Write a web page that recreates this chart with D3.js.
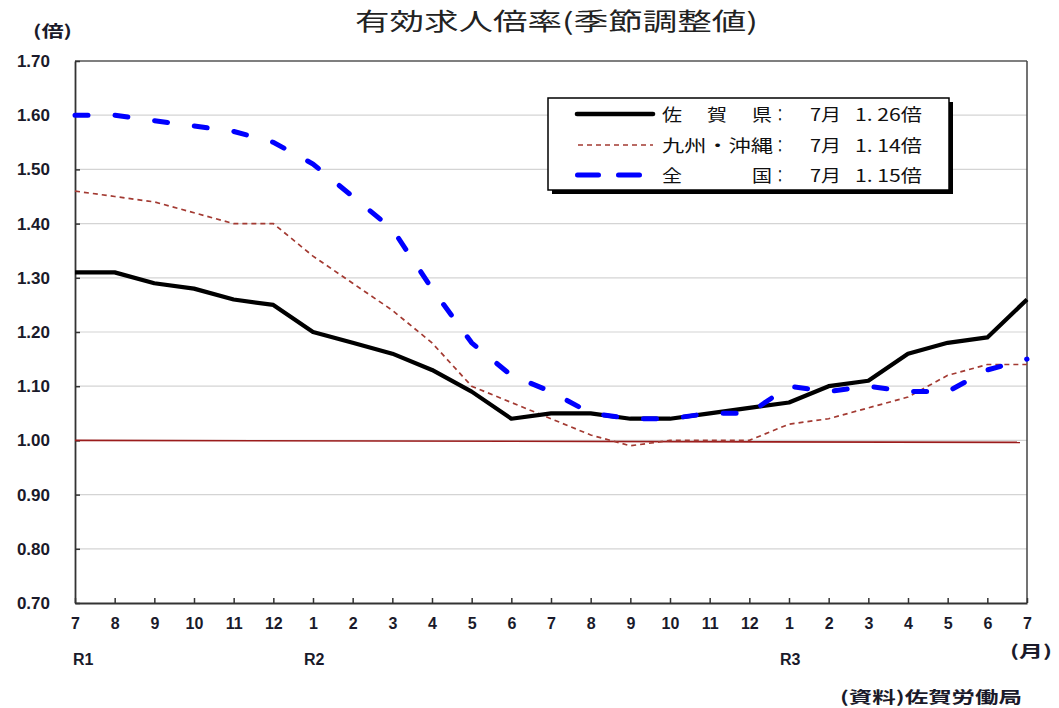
<!DOCTYPE html>
<html><head><meta charset="utf-8">
<script src="https://cdn.jsdelivr.net/npm/d3@7"></script>
<style>
body{margin:0;background:#fff;}
svg text{font-family:"Liberation Sans",Arial,sans-serif;}
.jp{font-family:"Noto Sans CJK JP","Noto Sans",sans-serif !important;}
</style>
</head><body>
<svg id="c" width="1059" height="708"></svg>
<script>
const months = ["7","8","9","10","11","12","1","2","3","4","5","6","7","8","9","10","11","12","1","2","3","4","5","6","7"];
const eraLabels = [{i:0,t:"R1"},{i:6,t:"R2"},{i:18,t:"R3"}];
const yTicks = [0.7,0.8,0.9,1.0,1.1,1.2,1.3,1.4,1.5,1.6,1.7];
const saga = [1.31,1.31,1.29,1.28,1.26,1.25,1.20,1.18,1.16,1.13,1.09,1.04,1.05,1.05,1.04,1.04,1.05,1.06,1.07,1.10,1.11,1.16,1.18,1.19,1.26];
const kyushu = [1.46,1.45,1.44,1.42,1.40,1.40,1.34,1.29,1.24,1.18,1.10,1.07,1.04,1.01,0.99,1.00,1.00,1.00,1.03,1.04,1.06,1.08,1.12,1.14,1.14];
const national = [1.60,1.60,1.59,1.58,1.57,1.55,1.51,1.45,1.39,1.28,1.18,1.12,1.09,1.05,1.04,1.04,1.05,1.05,1.10,1.09,1.10,1.09,1.09,1.13,1.15];

const svg = d3.select("#c");
const L=75, R=1027, T=61, B=603;
const x = d3.scaleLinear().domain([0, months.length-1]).range([L,R]);
const y = d3.scaleLinear().domain([0.7,1.7]).range([B,T]);

// grid
svg.append("g").selectAll("line").data(yTicks.filter(v=>v>0.71 && v<1.69)).join("line")
  .attr("x1",L).attr("x2",R).attr("y1",d=>y(d)).attr("y2",d=>y(d))
  .attr("stroke","#d4d4d4").attr("stroke-width",1.2);

// frame
svg.append("line").attr("x1",L).attr("x2",R).attr("y1",T).attr("y2",T).attr("stroke","#555").attr("stroke-width",1.5);
svg.append("line").attr("x1",R).attr("x2",R).attr("y1",T).attr("y2",B).attr("stroke","#444").attr("stroke-width",1.5);

// y axis
const yAxis = d3.axisLeft(y).tickValues(yTicks).tickFormat(d3.format(".2f")).tickSizeInner(-5).tickSizeOuter(0).tickPadding(25);
const gy = svg.append("g").attr("transform",`translate(${L},0)`).call(yAxis);
gy.select(".domain").attr("stroke","#333").attr("stroke-width",1.8);
gy.selectAll(".tick line").attr("stroke","#333").attr("stroke-width",1.5);
gy.selectAll("text").attr("font-size",17).attr("fill","#1a1a2a").attr("font-weight","bold");

// x axis
const xAxis = d3.axisBottom(x).tickValues(d3.range(months.length)).tickFormat(i=>months[i]).tickSizeInner(-5).tickSizeOuter(0).tickPadding(15);
const gx = svg.append("g").attr("transform",`translate(0,${B})`).call(xAxis);
gx.select(".domain").attr("stroke","#333").attr("stroke-width",1.8);
gx.selectAll(".tick line").attr("stroke","#333").attr("stroke-width",1.5);
gx.selectAll("text").attr("font-size",16).attr("fill","#1a1a2a").attr("font-weight","bold");

svg.append("g").selectAll("text").data(eraLabels).join("text")
  .attr("x",d=>Math.max(x(d.i)-9, L-2)).attr("y",665).text(d=>d.t)
  .attr("font-size",16).attr("font-weight","bold").attr("fill","#1a1a2a");

// 1.00 reference line
svg.append("line").attr("x1",L).attr("x2",1020).attr("y1",y(1.0)).attr("y2",y(1.0)+2)
  .attr("stroke","#9b1c1c").attr("stroke-width",1.6);

const line = d3.line().x((d,i)=>x(i)).y(d=>y(d));
svg.append("path").datum(kyushu).attr("d",line).attr("fill","none")
  .attr("stroke","#a33a32").attr("stroke-width",1.7).attr("stroke-dasharray","5,4");
svg.append("path").datum(saga).attr("d",line).attr("fill","none")
  .attr("stroke","#000").attr("stroke-width",4.2).attr("stroke-linejoin","round");
svg.append("path").datum(national).attr("d",line).attr("fill","none")
  .attr("stroke","#0000ff").attr("stroke-width",5).attr("stroke-dasharray","13,27").attr("stroke-linecap","round");

// Titles
svg.append("text").attr("class","jp").attr("x",355).attr("y",30)
  .attr("font-size",24).attr("fill","#222").attr("textLength",403).attr("lengthAdjust","spacingAndGlyphs")
  .text("有効求人倍率(季節調整値)");
svg.append("text").attr("class","jp").attr("x",33).attr("y",37)
  .attr("font-size",16).attr("font-weight","bold").attr("fill","#1a1a2a").attr("textLength",39).attr("lengthAdjust","spacingAndGlyphs").text("(倍)");
svg.append("text").attr("class","jp").attr("x",1010).attr("y",657)
  .attr("font-size",16).attr("font-weight","bold").attr("fill","#1a1a2a").attr("textLength",42).attr("lengthAdjust","spacingAndGlyphs").text("(月)");
svg.append("text").attr("class","jp").attr("x",840).attr("y",703)
  .attr("font-size",16).attr("font-weight","bold").attr("fill","#1a1a2a").attr("textLength",182).attr("lengthAdjust","spacingAndGlyphs").text("(資料)佐賀労働局");

// Legend
const lg = svg.append("g");
lg.append("rect").attr("x",552).attr("y",102).attr("width",401).attr("height",92).attr("fill","#000");
lg.append("rect").attr("x",548).attr("y",98).attr("width",401).attr("height",92).attr("fill","#fff").attr("stroke","#000").attr("stroke-width",1.5);
const rows = [
  {parts:[["佐",662,20],["賀",707,20],["県",752,20],["：",774,12]], val:"1. 26倍", stroke:"#000", w:4.6, dash:null, cap:"round", x1:577, x2:653},
  {parts:[["九州・沖縄",662,111],["：",774,12]], val:"1. 14倍", stroke:"#a33a32", w:1.7, dash:"5,4", cap:"butt", x1:578, x2:653},
  {parts:[["全",662,20],["国",752,20],["：",774,12]], val:"1. 15倍", stroke:"#0000ff", w:5, dash:"21,20", cap:"round", x1:577.5, x2:642}
];
const rowY = [114, 145, 175];
rows.forEach((r,k)=>{
  const yy = rowY[k];
  lg.append("line").attr("x1",r.x1).attr("x2",r.x2).attr("y1",yy).attr("y2",yy)
    .attr("stroke",r.stroke).attr("stroke-width",r.w).attr("stroke-dasharray",r.dash).attr("stroke-linecap",r.cap);
  r.parts.forEach(p=>{
    lg.append("text").attr("class","jp").attr("x",p[1]).attr("y",yy+7).attr("font-size",17).attr("fill","#111")
      .attr("textLength",p[2]).attr("lengthAdjust","spacingAndGlyphs").text(p[0]);
  });
  lg.append("text").attr("class","jp").attr("x",810).attr("y",yy+7).attr("font-size",17).attr("fill","#111")
    .attr("textLength",31).attr("lengthAdjust","spacingAndGlyphs").text("7月");
  lg.append("text").attr("class","jp").attr("x",855).attr("y",yy+7).attr("font-size",17).attr("fill","#111")
    .attr("textLength",67).attr("lengthAdjust","spacingAndGlyphs").text(r.val);
});
</script>
</body></html>
